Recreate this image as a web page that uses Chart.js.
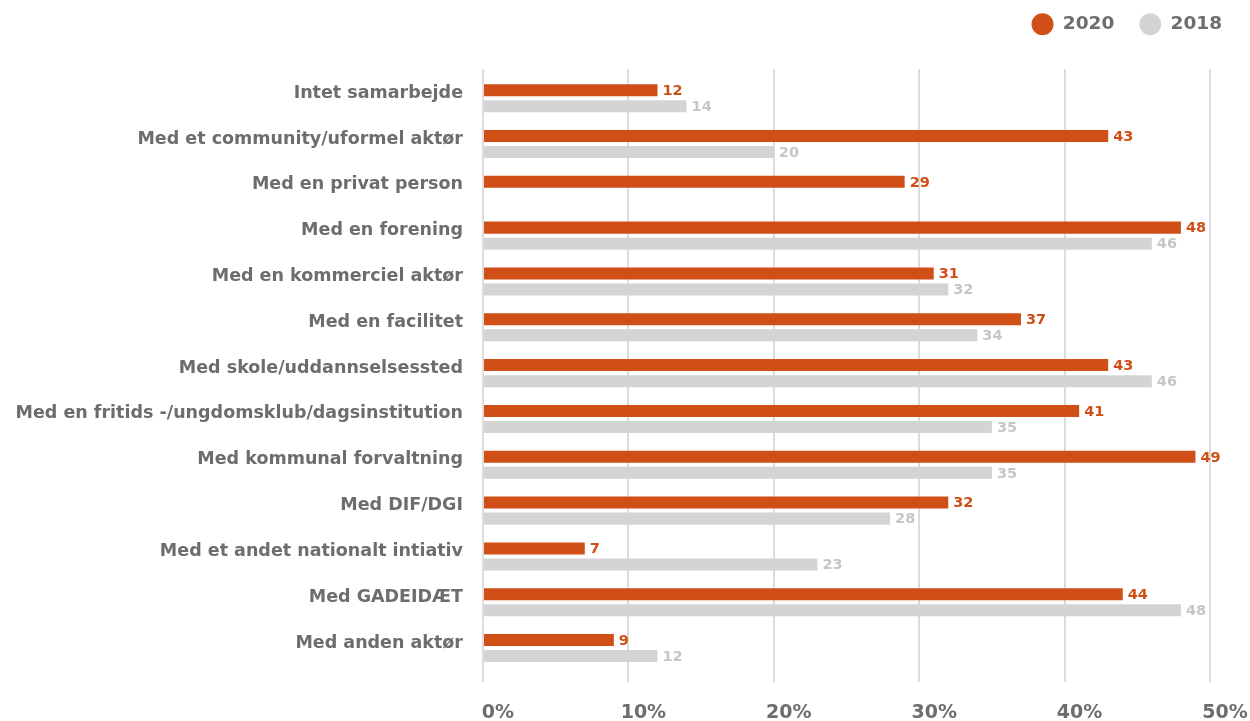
<!DOCTYPE html>
<html>
<head>
<meta charset="utf-8">
<script src="https://cdn.jsdelivr.net/npm/chart.js@4/dist/chart.umd.min.js"></script>
<style>
html,body{margin:0;padding:0;background:#fff;}
#wrap{width:1250px;height:721px;position:relative;}
</style>
</head>
<body>
<div id="wrap"><canvas id="c" width="1250" height="721"></canvas></div>
<script>
const categories = [
  "Intet samarbejde",
  "Med et community/uformel aktør",
  "Med en privat person",
  "Med en forening",
  "Med en kommerciel aktør",
  "Med en facilitet",
  "Med skole/uddannselsessted",
  "Med en fritids -/ungdomsklub/dagsinstitution",
  "Med kommunal forvaltning",
  "Med DIF/DGI",
  "Med et andet nationalt intiativ",
  "Med GADEIDÆT",
  "Med anden aktør"
];
const values2020 = [12, 43, 29, 48, 31, 37, 43, 41, 49, 32, 7, 44, 9];
const values2018 = [14, 20, null, 46, 32, 34, 46, 35, 35, 28, 23, 48, 12];
const seriesNames = ["2020", "2018"];
const xTicks = [0, 10, 20, 30, 40, 50];

const ORANGE = '#d04f16';
const LIGHT = '#d4d4d4';
const LABELGRAY = '#c6c6c6';
const TEXT = '#6b6d6e';
const GRID = '#dcdcdc';
const FONT = '"DejaVu Sans", Roboto, sans-serif';

const valueLabels = {
  id: 'valueLabels',
  afterDatasetsDraw(chart) {
    const ctx = chart.ctx;
    ctx.save();
    ctx.font = 'bold 14.5px ' + FONT;
    ctx.textAlign = 'left';
    ctx.textBaseline = 'middle';
    chart.data.datasets.forEach((ds, i) => {
      const meta = chart.getDatasetMeta(i);
      ctx.fillStyle = i === 0 ? ORANGE : LABELGRAY;
      meta.data.forEach((bar, j) => {
        const v = ds.data[j];
        if (v === null || v === undefined) return;
        ctx.fillText(String(v), bar.x + 5, bar.y + 1);
      });
    });
    ctx.restore();
  }
};

new Chart(document.getElementById('c'), {
  type: 'bar',
  data: {
    labels: categories,
    datasets: [
      { label: seriesNames[0], data: values2020, backgroundColor: ORANGE, borderWidth: 0,
        categoryPercentage: 0.7, barPercentage: 0.75, pointStyle: 'circle' },
      { label: seriesNames[1], data: values2018, backgroundColor: LIGHT, borderWidth: 0,
        categoryPercentage: 0.7, barPercentage: 0.75, pointStyle: 'circle' }
    ]
  },
  options: {
    indexAxis: 'y',
    responsive: false,
    animation: false,
    layout: { padding: { left: 0, right: 3, top: -10, bottom: 0 } },
    plugins: {
      legend: {
        position: 'top',
        align: 'end',
        labels: {
          usePointStyle: true,
          pointStyleWidth: 22,
          boxHeight: 15.5,
          padding: 25,
          color: TEXT,
          font: { family: FONT, size: 18.5, weight: 'bold' }
        }
      },
      tooltip: { enabled: false }
    },
    scales: {
      x: {
        min: 0, max: 50,
        afterBuildTicks(scale) { scale.ticks = xTicks.map(v => ({ value: v })); },
        afterFit(scale) { scale.height = 50; scale.paddingRight = 40; },
        grid: { color: GRID, lineWidth: 2, drawTicks: true, tickLength: 11, tickColor: GRID },
        border: { display: false },
        ticks: {
          callback: v => v + '%',
          color: TEXT,
          padding: 20,
          labelOffset: 15,
          font: { family: FONT, size: 19, weight: 'bold' }
        }
      },
      xTop: {
        type: 'linear',
        position: 'top',
        axis: 'x',
        min: 0, max: 50,
        afterBuildTicks(scale) { scale.ticks = xTicks.map(v => ({ value: v })); },
        afterFit(scale) { scale.height = 31.75; scale.paddingRight = 40; },
        grid: { display: true, drawOnChartArea: false, drawTicks: true, tickLength: 6, tickColor: GRID, lineWidth: 2, color: GRID },
        border: { display: false },
        ticks: { display: false }
      },
      y: {
        afterFit(scale) { scale.width = 483; },
        grid: { display: false, drawTicks: false },
        border: { display: false },
        ticks: {
          color: TEXT,
          padding: 20,
          labelOffset: -5,
          font: { family: FONT, size: 17.5, weight: 'bold' }
        }
      }
    }
  },
  plugins: [valueLabels]
});
</script>
</body>
</html>
